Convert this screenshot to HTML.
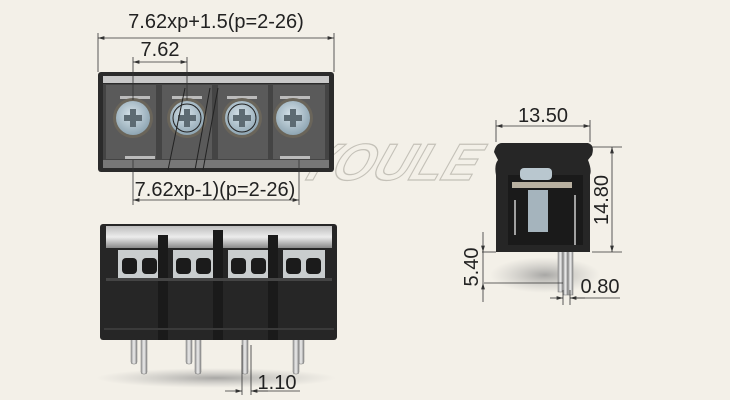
<!DOCTYPE html><html><head><style>body{margin:0;background:#f3f0e8}svg{display:block}text{font-family:"Liberation Sans",sans-serif;fill:#222}</style></head><body>
<svg width="730" height="400" viewBox="0 0 730 400" xmlns="http://www.w3.org/2000/svg">
<defs>
<radialGradient id="sc" cx="0.45" cy="0.4" r="0.6"><stop offset="0" stop-color="#d7e3ea"/><stop offset="1" stop-color="#8fa6b3"/></radialGradient>
<linearGradient id="tr" x1="0" y1="0" x2="0" y2="1"><stop offset="0" stop-color="#bdbdbd"/><stop offset="0.5" stop-color="#ececec"/><stop offset="1" stop-color="#8a8a8a"/></linearGradient>
<linearGradient id="pin" x1="0" y1="0" x2="1" y2="0"><stop offset="0" stop-color="#999"/><stop offset="0.5" stop-color="#eee"/><stop offset="1" stop-color="#888"/></linearGradient>
<radialGradient id="sh" cx="0.5" cy="0.5" r="0.5"><stop offset="0" stop-color="#888" stop-opacity="0.7"/><stop offset="1" stop-color="#aaa" stop-opacity="0"/></radialGradient>
<marker id="a" viewBox="0 0 10 6" refX="10" refY="3" markerWidth="8" markerHeight="5" orient="auto-start-reverse"><path d="M0 0 L10 3 L0 6 Z" fill="#333"/></marker>
</defs>
<rect width="730" height="400" fill="#f3f0e8"/>
<text x="300" y="180" font-size="52" font-style="italic" font-weight="bold" stroke="#c4c1b8" stroke-width="1.2" style="fill:none" transform="skewX(-20) translate(60,0)">YOULE</text>
<!-- top view -->
<rect x="98" y="72" width="236" height="100" rx="3" fill="#2b2b2b"/>
<rect x="103" y="76" width="226" height="7" fill="#c8c8c8"/>
<rect x="103" y="84" width="226" height="77" fill="#444"/>
<g fill="#5a5a5a"><rect x="106" y="85" width="50" height="74"/><rect x="162" y="85" width="50" height="74"/><rect x="218" y="85" width="50" height="74"/><rect x="273" y="85" width="52" height="74"/></g>
<rect x="103" y="160" width="226" height="8" fill="#777"/>
<g fill="#bbb"><rect x="120" y="96" width="30" height="3"/><rect x="172" y="96" width="30" height="3"/><rect x="227" y="96" width="30" height="3"/><rect x="280" y="96" width="30" height="3"/>
<rect x="125" y="156" width="30" height="3"/><rect x="280" y="156" width="30" height="3"/></g>
<g>
<circle cx="133" cy="118" r="20" fill="#6a655a"/><circle cx="133" cy="118" r="17" fill="url(#sc)"/>
<circle cx="187" cy="118" r="20" fill="#6a655a"/><circle cx="187" cy="118" r="17" fill="url(#sc)"/>
<circle cx="242" cy="118" r="20" fill="#6a655a"/><circle cx="242" cy="118" r="17" fill="url(#sc)"/>
<circle cx="293" cy="118" r="20" fill="#6a655a"/><circle cx="293" cy="118" r="17" fill="url(#sc)"/>
</g>
<g fill="#5d6b73"><rect x="124" y="115" width="18" height="6"/><rect x="130" y="109" width="6" height="18"/><rect x="178" y="115" width="18" height="6"/><rect x="184" y="109" width="6" height="18"/><rect x="233" y="115" width="18" height="6"/><rect x="239" y="109" width="6" height="18"/><rect x="284" y="115" width="18" height="6"/><rect x="290" y="109" width="6" height="18"/></g>
<g stroke="#222" stroke-width="1" fill="none"><circle cx="187" cy="118" r="14"/><circle cx="242" cy="118" r="14"/><line x1="185" y1="88" x2="168" y2="170"/><line x1="210" y1="88" x2="195" y2="170"/><line x1="218" y1="88" x2="203" y2="170"/></g>
<!-- top dims -->
<g stroke="#333" stroke-width="0.8"><line x1="98" y1="33" x2="98" y2="72"/><line x1="334" y1="33" x2="334" y2="72"/><line x1="98" y1="38" x2="334" y2="38" marker-start="url(#a)" marker-end="url(#a)"/>
<line x1="133" y1="57" x2="133" y2="100"/><line x1="187" y1="57" x2="187" y2="100"/><line x1="133" y1="62" x2="187" y2="62" marker-start="url(#a)" marker-end="url(#a)"/>
<line x1="133" y1="160" x2="133" y2="205"/><line x1="299" y1="160" x2="299" y2="205"/><line x1="133" y1="200" x2="299" y2="200" marker-start="url(#a)" marker-end="url(#a)"/></g>
<text x="216" y="28" font-size="20" text-anchor="middle">7.62xp+1.5(p=2-26)</text>
<text x="160" y="56" font-size="20" text-anchor="middle">7.62</text>
<text x="215" y="196" font-size="20" text-anchor="middle">7.62xp-1)(p=2-26)</text>
<!-- bottom view -->
<ellipse cx="216" cy="378" rx="120" ry="10" fill="url(#sh)"/>
<g fill="url(#pin)" stroke="#777" stroke-width="0.5">
<rect x="131" y="338" width="6" height="26" rx="2"/><rect x="141" y="338" width="6" height="36" rx="2"/>
<rect x="186" y="338" width="6" height="26" rx="2"/><rect x="195" y="338" width="6" height="36" rx="2"/>
<rect x="242" y="338" width="6" height="36" rx="2"/><rect x="298" y="338" width="6" height="26" rx="2"/><rect x="293" y="338" width="6" height="36" rx="2"/></g>
<rect x="100" y="224" width="237" height="116" rx="3" fill="#262626"/>
<rect x="106" y="226" width="226" height="22" fill="url(#tr)"/>
<g fill="#c9cdce"><rect x="118" y="250" width="42" height="28"/><rect x="173" y="250" width="42" height="28"/><rect x="228" y="250" width="42" height="28"/><rect x="283" y="250" width="42" height="28"/></g>
<g fill="#1b1b1b"><rect x="122" y="258" width="15" height="16" rx="4"/><rect x="142" y="258" width="15" height="16" rx="4"/><rect x="176" y="258" width="15" height="16" rx="4"/><rect x="196" y="258" width="15" height="16" rx="4"/><rect x="231" y="258" width="15" height="16" rx="4"/><rect x="251" y="258" width="15" height="16" rx="4"/><rect x="286" y="258" width="15" height="16" rx="4"/><rect x="306" y="258" width="15" height="16" rx="4"/></g>
<g fill="#1a1a1a"><rect x="158" y="235" width="10" height="105"/><rect x="213" y="230" width="10" height="110"/><rect x="268" y="235" width="10" height="105"/></g>
<rect x="106" y="278" width="226" height="3" fill="#444"/>
<rect x="104" y="328" width="230" height="2" fill="#3a3a3a"/>
<g stroke="#333" stroke-width="0.8"><line x1="242" y1="345" x2="242" y2="395"/><line x1="251" y1="345" x2="251" y2="395"/><line x1="225" y1="391" x2="242" y2="391" marker-end="url(#a)"/><line x1="268" y1="391" x2="251" y2="391" marker-end="url(#a)"/><line x1="251" y1="391" x2="300" y2="391"/></g>
<text x="277" y="389" font-size="20" text-anchor="middle">1.10</text>
<!-- side view -->
<ellipse cx="545" cy="275" rx="55" ry="18" fill="url(#sh)"/>
<g fill="url(#pin)" stroke="#777" stroke-width="0.5"><rect x="558" y="250" width="5" height="42"/><rect x="563" y="250" width="5" height="45"/><rect x="568" y="250" width="5" height="45"/></g>
<path d="M502 143 H588 Q595 145 592 155 L588 160 Q592 170 590 175 V252 H496 V175 Q494 165 498 160 L494 152 Q496 143 502 143 Z" fill="#262626"/>
<rect x="508" y="175" width="75" height="70" fill="#1a1a1a"/>
<rect x="520" y="168" width="32" height="12" rx="4" fill="#b9c7cf"/>
<rect x="512" y="182" width="60" height="6" fill="#b8b0a0"/>
<rect x="528" y="190" width="20" height="42" fill="#a5b4bd"/>
<g stroke="#ccc" stroke-width="1.5" fill="none"><path d="M515 200 V235 M575 195 V245"/></g>
<g stroke="#333" stroke-width="0.8"><line x1="496" y1="120" x2="496" y2="142"/><line x1="590" y1="120" x2="590" y2="142"/><line x1="496" y1="126" x2="590" y2="126" marker-start="url(#a)" marker-end="url(#a)"/>
<line x1="592" y1="147" x2="622" y2="147"/><line x1="592" y1="252" x2="622" y2="252"/><line x1="612" y1="147" x2="612" y2="252" marker-start="url(#a)" marker-end="url(#a)"/>
<line x1="482" y1="252" x2="496" y2="252"/><line x1="484" y1="283" x2="563" y2="283"/><line x1="483" y1="232" x2="483" y2="252" marker-end="url(#a)"/><line x1="483" y1="302" x2="483" y2="283" marker-end="url(#a)"/><line x1="483" y1="252" x2="483" y2="283"/>
<line x1="563" y1="290" x2="563" y2="305"/><line x1="570" y1="290" x2="570" y2="305"/><line x1="550" y1="298" x2="563" y2="298" marker-end="url(#a)"/><line x1="585" y1="298" x2="570" y2="298" marker-end="url(#a)"/><line x1="570" y1="298" x2="620" y2="298"/></g>
<text x="543" y="122" font-size="20" text-anchor="middle">13.50</text>
<text font-size="20" text-anchor="middle" transform="translate(608,200) rotate(-90)">14.80</text>
<text font-size="20" text-anchor="middle" transform="translate(478,267) rotate(-90)">5.40</text>
<text x="600" y="293" font-size="20" text-anchor="middle">0.80</text>
</svg></body></html>
